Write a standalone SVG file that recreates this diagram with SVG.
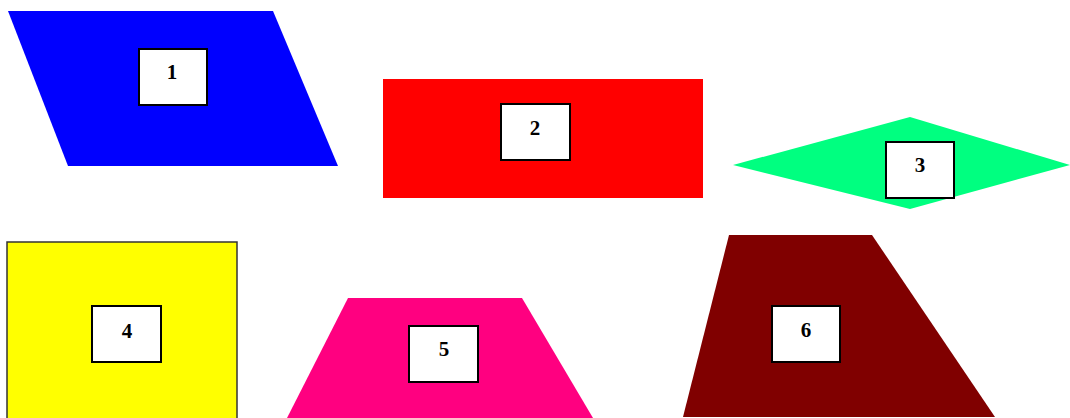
<svg xmlns="http://www.w3.org/2000/svg" width="1070" height="418" viewBox="0 0 1070 418">
<style>
.box{fill:#fff;stroke:#000;stroke-width:2}
.lbl{font-family:"Liberation Serif",serif;font-weight:bold;font-size:21px;fill:#000;text-anchor:middle;dominant-baseline:central}
</style>
<rect width="1070" height="418" fill="#fff"/>
<g id="node1">
<polygon points="8,11 273,11 338,166 68,166" fill="#0000ff"/>
<rect class="box" x="139" y="49" width="68" height="56"/>
<text class="lbl" x="172" y="72">1</text>
</g>
<g id="node2">
<rect x="383" y="79" width="320" height="119" fill="#ff0000"/>
<rect class="box" x="501" y="104" width="69" height="56"/>
<text class="lbl" x="535" y="128">2</text>
</g>
<g id="node3">
<polygon points="733,165 910,117 1070,165 910,209" fill="#00ff80"/>
<rect class="box" x="886" y="142" width="68" height="56"/>
<text class="lbl" x="920" y="165">3</text>
</g>
<g id="node4">
<rect x="7" y="242" width="230" height="180" fill="#ffff00" stroke="#333" stroke-width="1.5"/>
<rect class="box" x="92" y="306" width="69" height="56"/>
<text class="lbl" x="127" y="331">4</text>
</g>
<g id="node5">
<polygon points="348,298 522,298 593,418 287,418" fill="#ff0080"/>
<rect class="box" x="409" y="326" width="69" height="56"/>
<text class="lbl" x="444" y="349">5</text>
</g>
<g id="node6">
<polygon points="729,235 872,235 995,417 683,417" fill="#800000"/>
<rect class="box" x="772" y="306" width="68" height="56"/>
<text class="lbl" x="806" y="330">6</text>
</g>
<g id="connectors"></g>
</svg>
